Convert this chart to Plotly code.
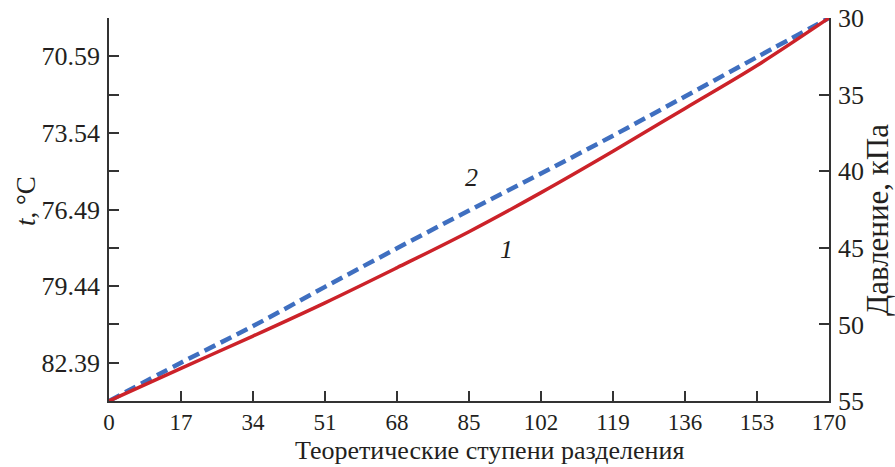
import plotly.graph_objects as go

# Theoretical stages of separation
stages = [0, 17, 34, 51, 68, 85, 102, 119, 136, 153, 170]

# Pressure profiles along the column, kPa
pressure_1 = [55.0, 52.87, 50.76, 48.59, 46.30, 43.95, 41.40, 38.70, 35.90, 33.10, 30.0]
pressure_2 = [55.0, 52.50, 50.11, 47.55, 45.03, 42.57, 40.15, 37.68, 35.12, 32.55, 30.0]

# Temperature axis ticks (labelled every other tick)
t_ticks = [69.115, 70.59, 72.065, 73.54, 75.015, 76.49, 77.965, 79.44, 80.915, 82.39, 83.865]
t_labels = ["", "70.59", "", "73.54", "", "76.49", "", "79.44", "", "82.39", ""]

# Pressure axis ticks
p_ticks = [30, 35, 40, 45, 50, 55]

FONT = "Liberation Serif, Times New Roman, serif"
AXIS_COLOR = "#333333"
TEXT_COLOR = "#231f20"

W, H = 895, 467
ML, MR, MT, MB = 109, 66, 18, 66
PW, PH = W - ML - MR, H - MT - MB


def paper_x(px):
    return (px - ML) / PW


def paper_y(py):
    return (H - MB - py) / PH


fig = go.Figure()

fig.add_trace(go.Scatter(
    x=stages, y=pressure_2, mode="lines", yaxis="y",
    line=dict(color="#3f6fc0", width=4.5, dash="12px,6px", shape="spline"),
    showlegend=False, hoverinfo="skip",
))
fig.add_trace(go.Scatter(
    x=stages, y=pressure_1, mode="lines", yaxis="y",
    line=dict(color="#cc2229", width=3.5, shape="spline"),
    showlegend=False, hoverinfo="skip",
))
# invisible trace so the temperature axis is rendered
fig.add_trace(go.Scatter(
    x=[stages[0], stages[-1]], y=[t_ticks[-1], t_ticks[0]], yaxis="y2",
    mode="lines", line=dict(width=0), opacity=0,
    showlegend=False, hoverinfo="skip",
))

axis_common = dict(
    ticks="inside", ticklen=10, tickwidth=1.5, tickcolor=AXIS_COLOR,
    showline=True, linecolor=AXIS_COLOR, linewidth=1.5,
    showgrid=False, zeroline=False, automargin=False,
)

fig.update_layout(
    width=W, height=H,
    margin=dict(l=ML, r=MR, t=MT, b=MB, autoexpand=False),
    paper_bgcolor="white", plot_bgcolor="white",
    xaxis=dict(range=[0, 170], tickvals=stages, ticklabelstandoff=0,
               tickfont=dict(family=FONT, size=23, color=TEXT_COLOR), **axis_common),
    yaxis=dict(range=[55, 30], tickvals=p_ticks, side="right", ticklabelstandoff=2,
               tickfont=dict(family=FONT, size=26, color=TEXT_COLOR), **axis_common),
    yaxis2=dict(range=[t_ticks[-1], t_ticks[0]], tickvals=t_ticks, ticktext=t_labels,
                overlaying="y", side="left", ticklabelstandoff=2,
                tickfont=dict(family=FONT, size=26, color=TEXT_COLOR), **axis_common),
    annotations=[
        dict(text="<i>2</i>", x=85.6, y=40.44, xref="x", yref="y", showarrow=False,
             font=dict(family=FONT, size=26, color=TEXT_COLOR),
             xanchor="center", yanchor="middle"),
        dict(text="<i>1</i>", x=93.9, y=45.14, xref="x", yref="y", showarrow=False,
             font=dict(family=FONT, size=26, color=TEXT_COLOR),
             xanchor="center", yanchor="middle"),
        dict(text="Теоретические ступени разделения", x=paper_x(489), y=paper_y(450),
             xref="paper", yref="paper", showarrow=False,
             font=dict(family=FONT, size=26, color=TEXT_COLOR),
             xanchor="center", yanchor="middle"),
        dict(text="<i>t</i>, °C", x=paper_x(26), y=paper_y(201), textangle=-90,
             xref="paper", yref="paper", showarrow=False,
             font=dict(family=FONT, size=27, color=TEXT_COLOR),
             xanchor="center", yanchor="middle"),
        dict(text="Давление, кПа", x=paper_x(877), y=paper_y(220), textangle=-90,
             xref="paper", yref="paper", showarrow=False,
             font=dict(family=FONT, size=31, color=TEXT_COLOR),
             xanchor="center", yanchor="middle"),
    ],
)

fig.write_html("out.html")
